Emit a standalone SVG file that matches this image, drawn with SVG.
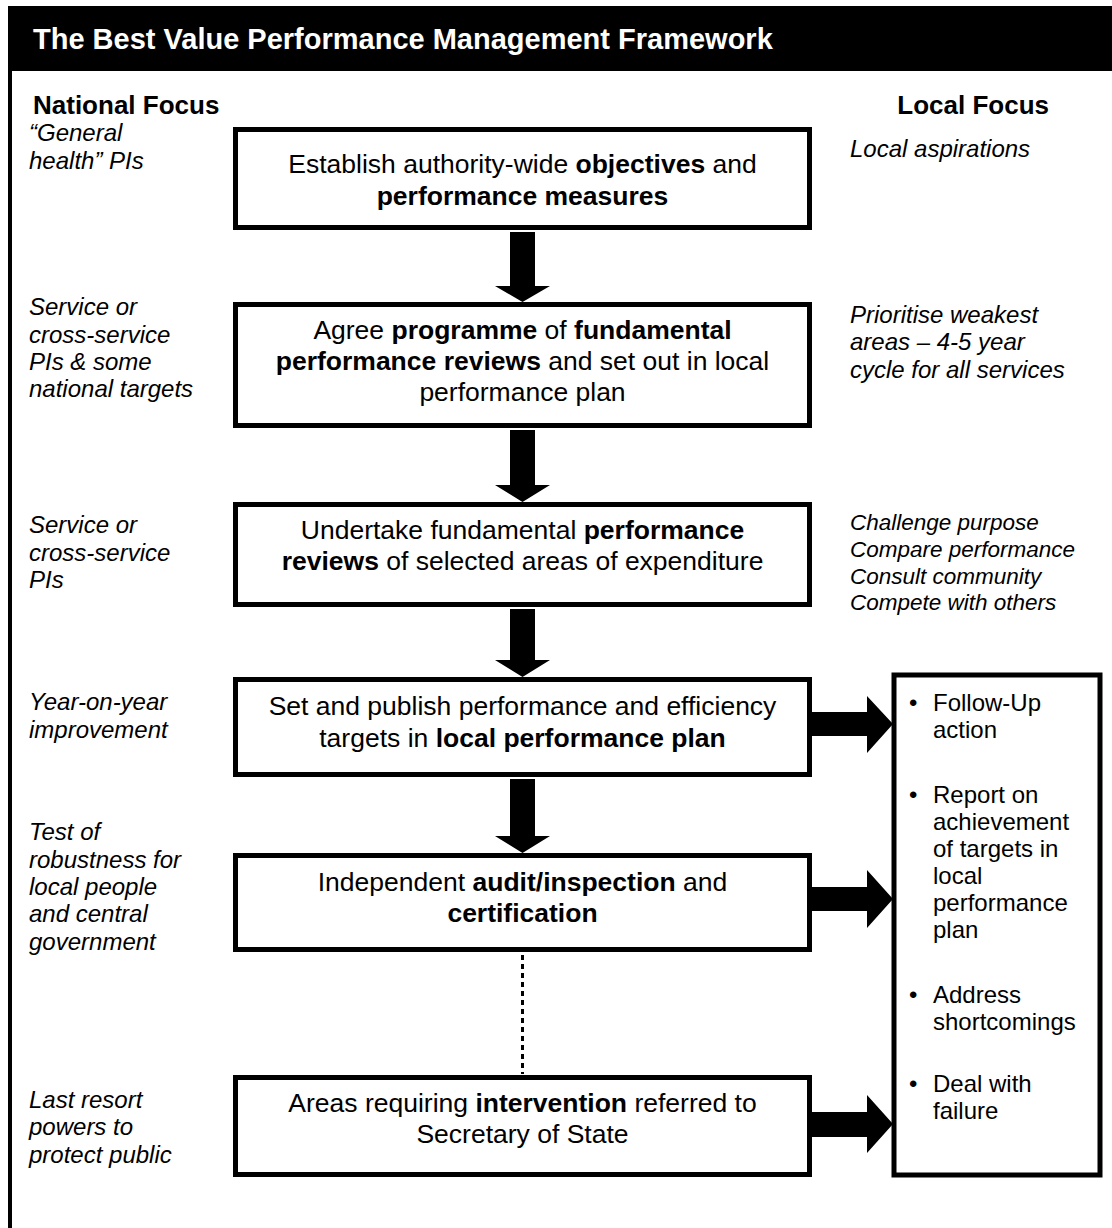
<svg xmlns="http://www.w3.org/2000/svg" width="1112" height="1228" viewBox="0 0 1112 1228">
<style>
text{font-family:"Liberation Sans",Arial,sans-serif;fill:#000}
.title{font-size:29px;font-weight:bold;fill:#fff}
.head{font-size:26px;font-weight:bold}
.side{font-size:24px;font-style:italic}
.sideS{font-size:22.5px;font-style:italic}
.box{fill:#fff;stroke:#000;stroke-width:5}
.bt{font-size:26.5px;text-anchor:middle}
.b{font-weight:bold}
.rt{font-size:24px}
.arrow{fill:#000}
</style>
<rect x="0" y="0" width="1112" height="1228" fill="#fff"/>
<g id="frame">
<rect x="10" y="8" width="1110" height="1240" fill="none" stroke="#000" stroke-width="4"/>
<rect x="8" y="6" width="1110" height="65" fill="#000"/>
<text class="title" x="33" y="49">The Best Value Performance Management Framework</text>
<text class="head" x="33" y="114">National Focus</text>
<text class="head" x="1049" y="114" text-anchor="end">Local Focus</text>
</g>
<g id="national-notes">
<text class="side" x="29" y="141">“General</text>
<text class="side" x="29" y="169">health” PIs</text>
<text class="side" x="29" y="315">Service or</text>
<text class="side" x="29" y="343">cross-service</text>
<text class="side" x="29" y="370">PIs &amp; some</text>
<text class="side" x="29" y="397">national targets</text>
<text class="side" x="29" y="533">Service or</text>
<text class="side" x="29" y="561">cross-service</text>
<text class="side" x="29" y="588">PIs</text>
<text class="side" x="29" y="710">Year-on-year</text>
<text class="side" x="29" y="738">improvement</text>
<text class="side" x="29" y="840">Test of</text>
<text class="side" x="29" y="868">robustness for</text>
<text class="side" x="29" y="895">local people</text>
<text class="side" x="29" y="922">and central</text>
<text class="side" x="29" y="950">government</text>
<text class="side" x="29" y="1108">Last resort</text>
<text class="side" x="29" y="1135">powers to</text>
<text class="side" x="29" y="1163">protect public</text>
</g>
<g id="local-notes">
<text class="side" x="850" y="157">Local aspirations</text>
<text class="side" x="850" y="323">Prioritise weakest</text>
<text class="side" x="850" y="350">areas – 4-5 year</text>
<text class="side" x="850" y="378">cycle for all services</text>
<text class="sideS" x="850" y="530">Challenge purpose</text>
<text class="sideS" x="850" y="557">Compare performance</text>
<text class="sideS" x="850" y="584">Consult community</text>
<text class="sideS" x="850" y="610">Compete with others</text>
</g>
<g id="box1">
<rect class="box" x="235.5" y="129.5" width="574" height="98"/>
<text class="bt" x="522.5" y="173">Establish authority-wide <tspan class="b">objectives</tspan> and</text>
<text class="bt b" x="522.5" y="205">performance measures</text>
</g>
<g id="box2">
<rect class="box" x="235.5" y="304.5" width="574" height="121"/>
<text class="bt" x="522.5" y="339">Agree <tspan class="b">programme</tspan> of <tspan class="b">fundamental</tspan></text>
<text class="bt" x="522.5" y="370"><tspan class="b">performance reviews</tspan> and set out in local</text>
<text class="bt" x="522.5" y="401">performance plan</text>
</g>
<g id="box3">
<rect class="box" x="235.5" y="504.5" width="574" height="100"/>
<text class="bt" x="522.5" y="539">Undertake fundamental <tspan class="b">performance</tspan></text>
<text class="bt" x="522.5" y="570"><tspan class="b">reviews</tspan> of selected areas of expenditure</text>
</g>
<g id="box4">
<rect class="box" x="235.5" y="679.5" width="574" height="95"/>
<text class="bt" x="522.5" y="715">Set and publish performance and efficiency</text>
<text class="bt" x="522.5" y="747">targets in <tspan class="b">local performance plan</tspan></text>
</g>
<g id="box5">
<rect class="box" x="235.5" y="855.5" width="574" height="94"/>
<text class="bt" x="522.5" y="891">Independent <tspan class="b">audit/inspection</tspan> and</text>
<text class="bt b" x="522.5" y="922">certification</text>
</g>
<g id="box6">
<rect class="box" x="235.5" y="1077.5" width="574" height="97"/>
<text class="bt" x="522.5" y="1112">Areas requiring <tspan class="b">intervention</tspan> referred to</text>
<text class="bt" x="522.5" y="1143">Secretary of State</text>
</g>
<g id="outcomes">
<rect class="box" x="894" y="675" width="206" height="500" stroke-width="4.5"/>
<text class="rt" x="909" y="711">•</text>
<text class="rt" x="933" y="711">Follow-Up</text>
<text class="rt" x="933" y="738">action</text>
<text class="rt" x="909" y="803">•</text>
<text class="rt" x="933" y="803">Report on</text>
<text class="rt" x="933" y="830">achievement</text>
<text class="rt" x="933" y="857">of targets in</text>
<text class="rt" x="933" y="884">local</text>
<text class="rt" x="933" y="911">performance</text>
<text class="rt" x="933" y="938">plan</text>
<text class="rt" x="909" y="1003">•</text>
<text class="rt" x="933" y="1003">Address</text>
<text class="rt" x="933" y="1030">shortcomings</text>
<text class="rt" x="909" y="1092">•</text>
<text class="rt" x="933" y="1092">Deal with</text>
<text class="rt" x="933" y="1119">failure</text>
</g>
<g id="connectors">
<polygon class="arrow" points="510,232 535,232 535,286 550,286 522.5,302 495,286 510,286"/>
<polygon class="arrow" points="510,430 535,430 535,485 550,485 522.5,502 495,485 510,485"/>
<polygon class="arrow" points="510,609 535,609 535,660 550,660 522.5,677 495,660 510,660"/>
<polygon class="arrow" points="510,779 535,779 535,836 550,836 522.5,853 495,836 510,836"/>
<line x1="522.5" y1="955" x2="522.5" y2="1074" stroke="#000" stroke-width="3" stroke-dasharray="5,4"/>
<polygon class="arrow" points="812,712 867,712 867,696 893,724 867,753 867,736 812,736"/>
<polygon class="arrow" points="812,887 867,887 867,870 893,899 867,928 867,911 812,911"/>
<polygon class="arrow" points="812,1112 867,1112 867,1095 893,1124 867,1153 867,1137 812,1137"/>
</g>
</svg>
